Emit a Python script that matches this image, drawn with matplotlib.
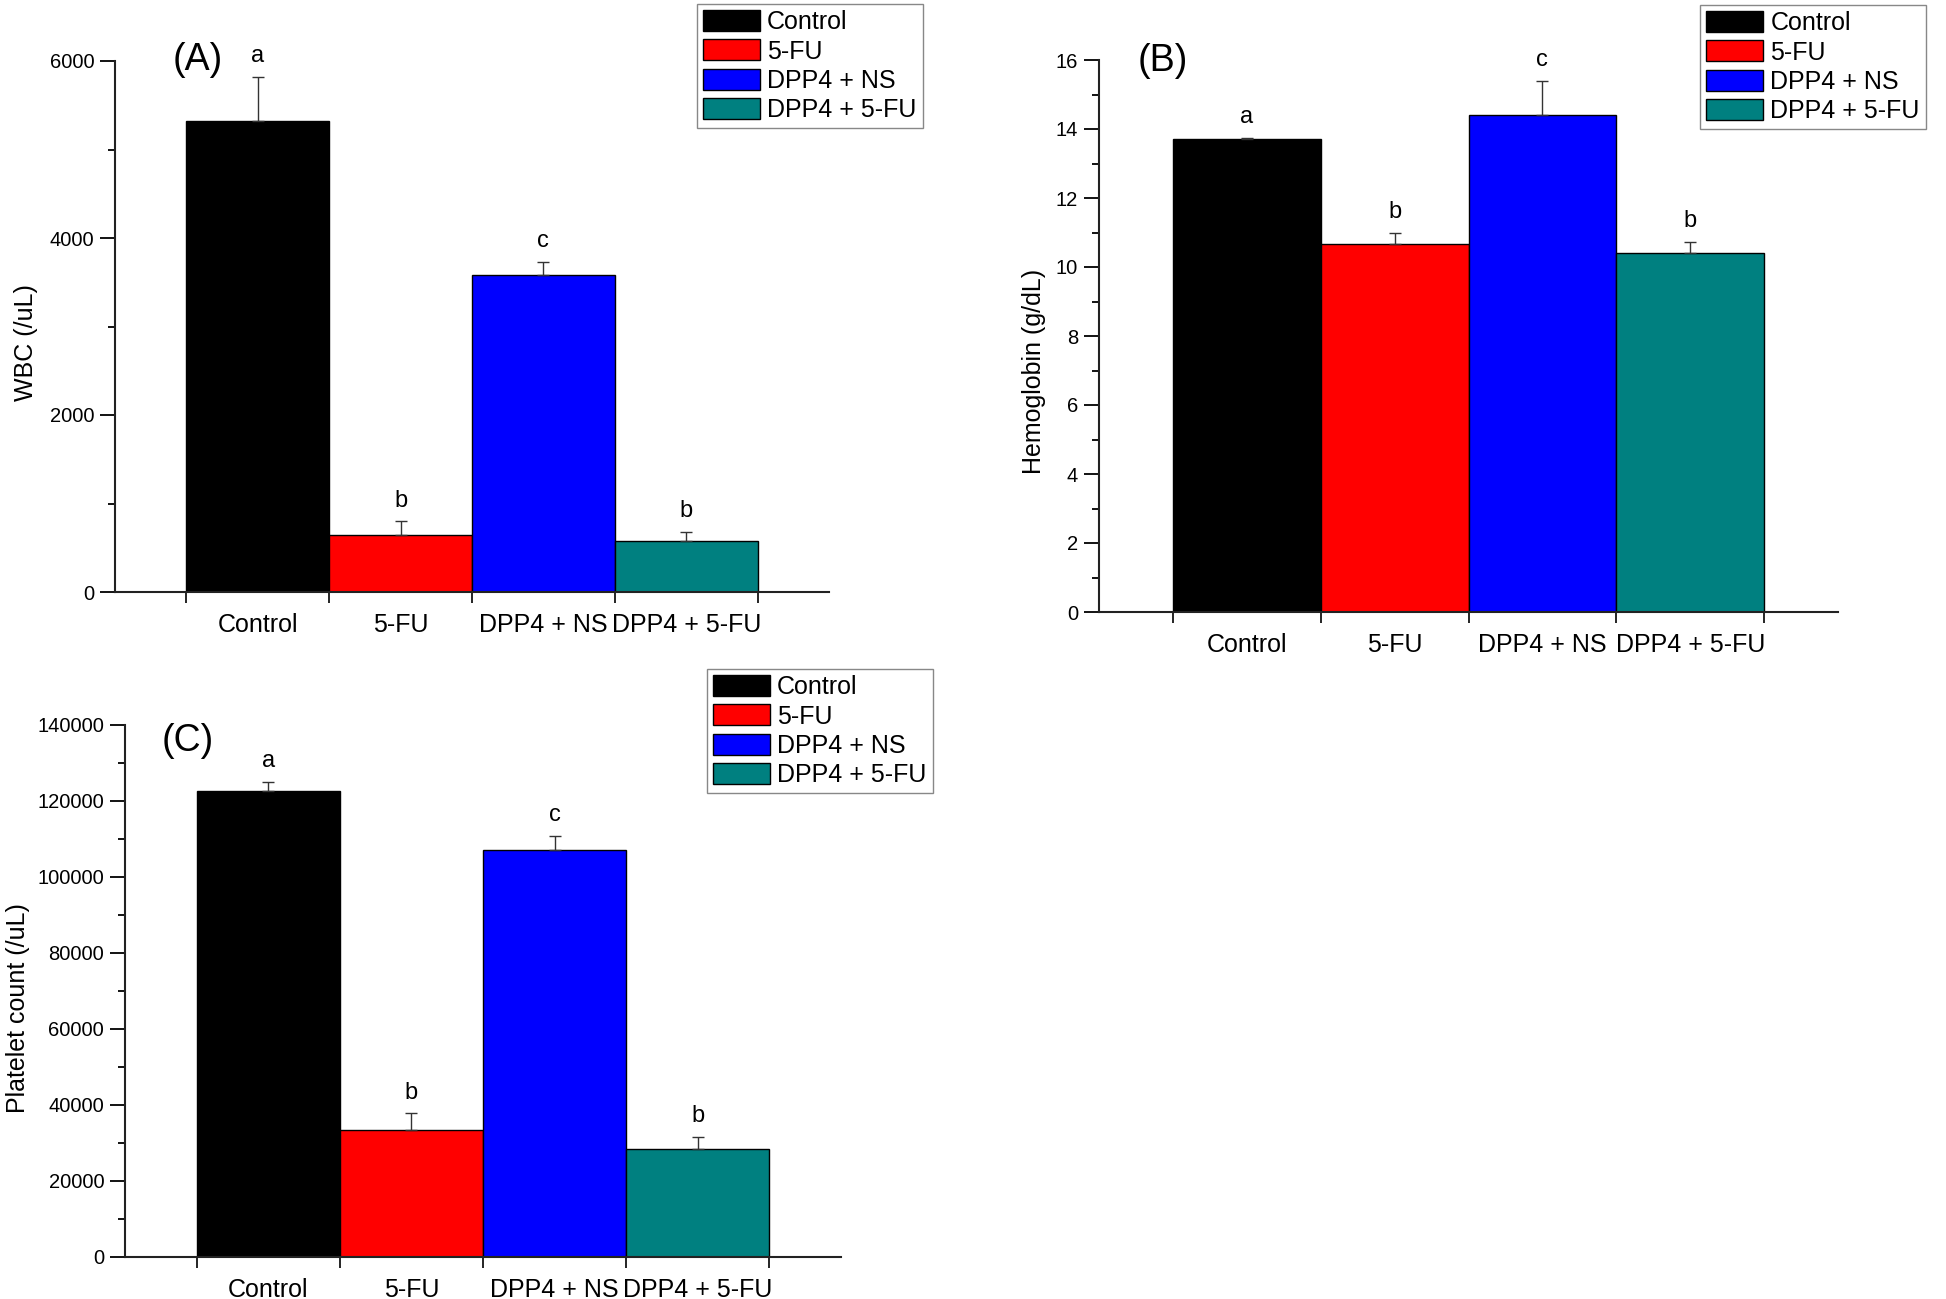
import numpy as np
import matplotlib
matplotlib.use("Agg")
import matplotlib.pyplot as plt
from matplotlib.patches import Patch

plt.rcParams['font.family'] = ['Liberation Sans', 'DejaVu Sans']

groups = ['Control', '5-FU', 'DPP4 + NS', 'DPP4 + 5-FU']
colors = ['#000000', '#ff0000', '#0000ff', '#008080']

# (A) WBC
wbc = [5320, 644, 3581, 573]
wbc_err = [500, 155, 146, 104]
wbc_letters = ['a', 'b', 'c', 'b']

# (B) Hemoglobin
hgb = [13.70, 10.67, 14.42, 10.41]
hgb_err = [0.05, 0.31, 0.97, 0.32]
hgb_letters = ['a', 'b', 'c', 'b']

# (C) Platelet count
plt_count = [122640, 33476, 106974, 28433]
plt_err = [2400, 4300, 3900, 3200]
plt_letters = ['a', 'b', 'c', 'b']

fig = plt.figure(figsize=(19.46, 12.99), dpi=100)
W, H = 1946, 1299


def panel(rect, vals, errs, letters, ylim, major, minor, ylabel, ylab_xy,
          tag, tag_xy, leg_xy):
    ax = fig.add_axes(rect)
    x = np.arange(len(vals))
    ax.bar(x, vals, width=1.0, color=colors, edgecolor='black', linewidth=1)
    ax.errorbar(x, vals, yerr=[np.zeros(len(errs)), errs], fmt='none',
                ecolor='#333333', elinewidth=1, capsize=4, capthick=1)
    for xi, v, e, l in zip(x, vals, errs, letters):
        ax.annotate(l, (xi, v + e), xytext=(0, 7), textcoords='offset points',
                    ha='center', va='bottom', fontsize=17, annotation_clip=False)
    ax.set_xlim(-1.0, 4.0)
    ax.set_ylim(*ylim)
    ax.set_xticks(x, groups)
    ax.set_xticks(np.arange(len(vals) + 1) - 0.5, minor=True)
    ax.tick_params(axis='x', which='major', length=0, pad=15, labelsize=18)
    ax.tick_params(axis='x', which='minor', length=8, width=1.2, direction='out')
    ax.set_yticks(major)
    ax.set_yticks(minor, minor=True)
    ax.tick_params(axis='y', which='major', length=11, width=1.3, pad=4,
                   labelsize=14.5)
    ax.tick_params(axis='y', which='minor', length=5, width=1.3)
    for s in ['top', 'right']:
        ax.spines[s].set_visible(False)
    for s in ['left', 'bottom']:
        ax.spines[s].set_linewidth(1.5)
        ax.spines[s].set_color('#222222')
    ax.set_ylabel(ylabel, fontsize=18)
    ax.yaxis.set_label_coords(*ylab_xy)
    ax.text(tag_xy[0], tag_xy[1], tag, transform=ax.transAxes, fontsize=27,
            ha='center', va='center')
    handles = [Patch(facecolor=c, edgecolor='black', linewidth=1) for c in colors]
    ax.legend(handles, groups, loc='upper left',
              bbox_to_anchor=(leg_xy[0] / W, 1 - leg_xy[1] / H),
              bbox_transform=fig.transFigure, fontsize=18, frameon=True,
              fancybox=False, edgecolor='#888888', framealpha=1,
              handlelength=2.28, handleheight=0.92, labelspacing=0.2,
              borderpad=0.25, handletextpad=0.28, borderaxespad=0)
    return ax


panel([115 / W, 1 - 592 / H, 714 / W, 531 / H], wbc, wbc_err, wbc_letters,
      (0, 6000), [0, 2000, 4000, 6000], [1000, 3000, 5000], 'WBC (/uL)',
      (-0.108, 0.469), '(A)', (0.116, 1.002), (697, 4))

panel([1099 / W, 1 - 612 / H, 739 / W, 552 / H], hgb, hgb_err, hgb_letters,
      (0, 16), np.arange(0, 17, 2), np.arange(1, 16, 2), 'Hemoglobin (g/dL)',
      (-0.072, 0.435), '(B)', (0.087, 0.998), (1700, 5))

panel([125 / W, 1 - 1257 / H, 716 / W, 532 / H], plt_count, plt_err, plt_letters,
      (0, 140000), np.arange(0, 140001, 20000), np.arange(10000, 140000, 20000),
      'Platelet count (/uL)', (-0.133, 0.468), '(C)', (0.088, 0.970), (707, 669))

fig.savefig('out.png', dpi=100)
